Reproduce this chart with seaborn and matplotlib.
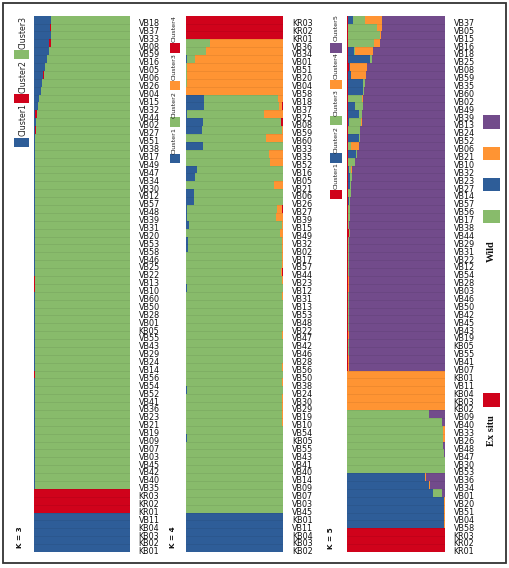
import numpy as np
import pandas as pd
import matplotlib
matplotlib.use("Agg")
import matplotlib.pyplot as plt
import matplotlib.transforms as mtransforms
from matplotlib.patches import Rectangle
import seaborn as sns

# ---------------- colours ----------------
BLUE = "#2E5D98"
RED = "#D0021B"
GREEN = "#88BB6B"
ORANGE = "#FF9433"
PURPLE = "#724B8B"

# ---------------- K = 3 ----------------
K3_LABELS = ["VB18", "VB37", "VB33", "VB08", "VB59", "VB16", "VB05", "VB06", "VB26", "VB04",
             "VB15", "VB32", "VB44", "VB02", "VB27", "VB51", "VB38", "VB17", "VB49", "VB47",
             "VB34", "VB30", "VB12", "VB57", "VB48", "VB39", "VB31", "VB20", "VB53", "VB58",
             "VB46", "VB25", "VB22", "VB13", "VB10", "VB60", "VB50", "VB28", "VB01", "KB05",
             "VB55", "VB43", "VB29", "VB24", "VB14", "VB56", "VB54", "VB52", "VB41", "VB36",
             "VB23", "VB21", "VB19", "VB09", "VB07", "VB03", "VB45", "VB42", "VB40", "VB35",
             "KR03", "KR02", "KR01", "VB11", "KB04", "KB03", "KB02", "KB01"]
K3_CLUSTER1 = [0.177, 0.167, 0.177, 0.160, 0.156, 0.132, 0.110, 0.097, 0.083, 0.073,
               0.049, 0.038, 0.012, 0.020, 0.014, 0.012, 0.010, 0.009, 0.008, 0.008,
               0.008, 0.008, 0.007, 0.006, 0.007, 0.006, 0.006, 0.007, 0.008, 0.007,
               0.006, 0.006, 0.007, 0.005, 0.004, 0.006, 0.006, 0.007, 0.008, 0.008,
               0.006, 0.007, 0.006, 0.007, 0.006, 0.005, 0.006, 0.006, 0.006, 0.006,
               0.006, 0.006, 0.007, 0.008, 0.006, 0.006, 0.006, 0.006, 0.006, 0.006,
               0, 0, 0, 1, 1, 1, 1, 1]
K3_CLUSTER2 = [0.004, 0.010, 0.004, 0.014, 0.003, 0.003, 0.002, 0.002, 0.002, 0.003,
               0.004, 0.006, 0.022, 0.004, 0.005, 0.003, 0.004, 0.004, 0.005, 0.003,
               0.002, 0.003, 0.004, 0.006, 0.003, 0.005, 0.006, 0.003, 0.002, 0.003,
               0.004, 0.003, 0.003, 0.008, 0.010, 0.005, 0.004, 0.003, 0.002, 0.002,
               0.005, 0.003, 0.004, 0.003, 0.003, 0.007, 0.004, 0.003, 0.003, 0.004,
               0.003, 0.003, 0.003, 0.002, 0.003, 0.003, 0.003, 0.004, 0.003, 0.003,
               1, 1, 1, 0, 0, 0, 0, 0]
K3_CLUSTER3 = [0.819, 0.823, 0.819, 0.826, 0.841, 0.865, 0.888, 0.901, 0.915, 0.924,
               0.947, 0.956, 0.966, 0.976, 0.981, 0.985, 0.986, 0.987, 0.987, 0.989,
               0.990, 0.989, 0.989, 0.988, 0.990, 0.989, 0.988, 0.990, 0.990, 0.990,
               0.990, 0.991, 0.990, 0.987, 0.986, 0.989, 0.990, 0.990, 0.990, 0.990,
               0.989, 0.990, 0.990, 0.990, 0.991, 0.988, 0.990, 0.991, 0.991, 0.990,
               0.991, 0.991, 0.990, 0.990, 0.991, 0.991, 0.991, 0.990, 0.991, 0.991,
               0, 0, 0, 0, 0, 0, 0, 0]

# ---------------- K = 4 ----------------
K4_LABELS = ["KR03", "KR02", "KR01", "VB36", "VB34", "VB01", "VB51", "VB20", "VB04", "VB58",
             "VB18", "VB37", "VB25", "VB08", "VB59", "VB60", "VB33", "VB35", "VB52", "VB16",
             "VB05", "VB21", "VB06", "VB26", "VB27", "VB39", "VB15", "VB49", "VB32", "VB02",
             "VB17", "VB57", "VB44", "VB23", "VB12", "VB31", "VB13", "VB53", "VB48", "VB22",
             "VB47", "VB42", "VB46", "VB28", "VB56", "VB50", "VB38", "VB24", "VB30", "VB29",
             "VB19", "VB10", "VB54", "KB05", "VB55", "VB43", "VB41", "VB40", "VB14", "VB09",
             "VB07", "VB03", "VB45", "KB01", "VB11", "KB04", "KB03", "KB02"]
K4_CLUSTER1 = [0, 0, 0, 0.003, 0.003, 0.010, 0.004, 0.004, 0.004, 0.002,
               0.190, 0.183, 0.010, 0.174, 0.164, 0.004, 0.175, 0.004, 0.004, 0.120,
               0.100, 0.004, 0.087, 0.085, 0.010, 0.010, 0.034, 0.008, 0.024, 0.020,
               0.008, 0.006, 0.006, 0.005, 0.010, 0.006, 0.008, 0.008, 0.008, 0.006,
               0.006, 0.004, 0.008, 0.006, 0.004, 0.006, 0.004, 0.010, 0.006, 0.004,
               0.004, 0.006, 0.004, 0.010, 0.006, 0.004, 0.004, 0.004, 0.006, 0.004,
               0.004, 0.004, 0.004, 1, 1, 1, 1, 1]
K4_CLUSTER2 = [0, 0, 0, 0.247, 0.207, 0.085, 0.008, 0.008, 0.008, 0.006,
               0.760, 0.774, 0.790, 0.806, 0.818, 0.816, 0.825, 0.846, 0.856, 0.880,
               0.900, 0.896, 0.913, 0.915, 0.930, 0.920, 0.956, 0.957, 0.966, 0.970,
               0.978, 0.980, 0.970, 0.977, 0.982, 0.984, 0.985, 0.986, 0.986, 0.988,
               0.982, 0.990, 0.986, 0.988, 0.986, 0.988, 0.984, 0.984, 0.984, 0.986,
               0.986, 0.980, 0.990, 0.986, 0.990, 0.992, 0.992, 0.992, 0.990, 0.992,
               0.992, 0.992, 0.992, 0, 0, 0, 0, 0]
K4_CLUSTER3 = [0, 0, 0, 0.750, 0.790, 0.905, 0.988, 0.988, 0.988, 0.992,
               0.050, 0.030, 0.200, 0.000, 0.018, 0.180, 0, 0.150, 0.140, 0,
               0, 0.100, 0, 0, 0.050, 0.070, 0.010, 0.035, 0.010, 0.008,
               0.014, 0.010, 0.010, 0.018, 0.008, 0.010, 0.007, 0.006, 0.006, 0.006,
               0.012, 0.006, 0.006, 0.006, 0.010, 0.006, 0.012, 0.006, 0.010, 0.010,
               0.010, 0.014, 0.006, 0.004, 0.004, 0.004, 0.004, 0.004, 0.004, 0.004,
               0.004, 0.004, 0.004, 0, 0, 0, 0, 0]
K4_CLUSTER4 = [1, 1, 1, 0, 0, 0, 0, 0, 0, 0,
               0, 0.013, 0, 0.020, 0, 0, 0, 0, 0, 0,
               0, 0, 0, 0, 0.010, 0, 0, 0, 0, 0.002,
               0, 0.004, 0.014, 0, 0, 0, 0, 0, 0, 0,
               0, 0, 0, 0, 0, 0, 0, 0, 0, 0,
               0, 0, 0, 0, 0, 0, 0, 0, 0, 0,
               0, 0, 0, 0, 0, 0, 0, 0]

# ---------------- K = 5 ----------------
K5_LABELS = ["VB37", "VB05", "VB15", "VB16", "VB18", "VB25", "VB08", "VB59", "VB35", "VB60",
             "VB02", "VB49", "VB39", "VB13", "VB24", "VB52", "VB06", "VB21", "VB10", "VB32",
             "VB23", "VB27", "VB14", "VB57", "VB56", "VB17", "VB38", "VB44", "VB29", "VB31",
             "VB22", "VB12", "VB54", "VB28", "VB03", "VB46", "VB50", "VB42", "VB45", "VB43",
             "VB19", "KB05", "VB55", "VB41", "VB07", "KB01", "VB11", "KB04", "KB03", "KB02",
             "VB09", "VB40", "VB33", "VB26", "VB48", "VB47", "VB30", "VB53", "VB36", "VB34",
             "VB01", "VB20", "VB51", "VB04", "VB58", "KR03", "KR02", "KR01"]
K5_CLUSTER1 = [0.010, 0.008, 0.008, 0.006, 0.004, 0.004, 0.017, 0.004, 0.004, 0.004,
               0.004, 0.004, 0.004, 0.004, 0.004, 0.004, 0.004, 0.004, 0.004, 0.006,
               0.004, 0.006, 0.004, 0.004, 0.006, 0.004, 0.004, 0.017, 0.004, 0.004,
               0.004, 0.004, 0.004, 0.004, 0.004, 0.006, 0.004, 0.004, 0.004, 0.004,
               0.004, 0.004, 0.004, 0.004, 0.004, 0, 0, 0, 0, 0,
               0, 0, 0, 0, 0, 0, 0, 0, 0, 0,
               0, 0, 0, 0, 0, 1, 1, 1]
K5_CLUSTER2 = [0.050, 0.000, 0.000, 0.000, 0.068, 0.232, 0.006, 0.034, 0.160, 0.160,
               0.006, 0.078, 0.120, 0.017, 0.006, 0.120, 0.004, 0.090, 0.004, 0.010,
               0.027, 0.020, 0.008, 0.010, 0.006, 0.004, 0.006, 0.004, 0.008, 0.004,
               0.006, 0.004, 0.004, 0.004, 0.004, 0.004, 0.008, 0.006, 0.004, 0.004,
               0.004, 0.006, 0.004, 0.004, 0.004, 0, 0, 0, 0, 0,
               0, 0, 0, 0, 0, 0, 0, 0, 0.795, 0.836,
               0.880, 0.990, 0.990, 0.990, 0.992, 0, 0, 0]
K5_CLUSTER3 = [0.126, 0.292, 0.330, 0.266, 0.006, 0.017, 0.000, 0.000, 0.014, 0.010,
               0.137, 0.075, 0.024, 0.120, 0.120, 0.010, 0.030, 0.010, 0.070, 0.025,
               0.020, 0.012, 0.030, 0.010, 0.020, 0.015, 0.010, 0.004, 0.006, 0.008,
               0.006, 0.006, 0.008, 0.004, 0.004, 0.004, 0.004, 0.004, 0.010, 0.006,
               0.004, 0.004, 0.006, 0.004, 0.004, 0, 0, 0, 0, 0,
               0.840, 0.970, 0.975, 0.980, 0.980, 0.990, 0.995, 0.995, 0, 0,
               0.090, 0, 0, 0, 0, 0, 0, 0]
K5_CLUSTER4 = [0.170, 0.058, 0.012, 0.062, 0.180, 0.000, 0.174, 0.150, 0.000, 0.000,
               0.010, 0.000, 0.000, 0.008, 0.000, 0.000, 0.085, 0.000, 0.000, 0.006,
               0.000, 0.000, 0.000, 0.004, 0.000, 0.004, 0.000, 0.000, 0.002, 0.004,
               0.002, 0.002, 0.002, 0.002, 0.002, 0.002, 0.002, 0.002, 0.002, 0.002,
               0.002, 0.002, 0.002, 0.002, 0.002, 1, 1, 1, 1, 1,
               0, 0, 0.025, 0.020, 0, 0, 0, 0, 0.010, 0.014,
               0, 0.010, 0.010, 0.010, 0.008, 0, 0, 0]
K5_CLUSTER5 = [0.644, 0.642, 0.650, 0.666, 0.742, 0.747, 0.803, 0.812, 0.822, 0.826,
               0.843, 0.843, 0.852, 0.851, 0.870, 0.866, 0.877, 0.896, 0.922, 0.953,
               0.949, 0.962, 0.958, 0.972, 0.968, 0.973, 0.980, 0.975, 0.980, 0.980,
               0.982, 0.984, 0.982, 0.986, 0.986, 0.984, 0.982, 0.984, 0.980, 0.984,
               0.986, 0.984, 0.984, 0.986, 0.986, 0, 0, 0, 0, 0,
               0.160, 0.030, 0, 0, 0.020, 0.010, 0.005, 0.005, 0.195, 0.150,
               0.030, 0, 0, 0, 0, 0, 0, 0]

# ---------------- figure ----------------
W, H = 510, 568
sns.set_theme(style="white")
plt.rcParams["font.family"] = ["DejaVu Sans"]
fig = plt.figure(figsize=(W / 100, H / 100), dpi=100)
fig.patch.set_facecolor("white")

BAR_TOP, BAR_BOT = 15.7, 552.0


def make_ax(x0, x1):
    return fig.add_axes([x0 / W, 1 - BAR_BOT / H, (x1 - x0) / W, (BAR_BOT - BAR_TOP) / H])


def panel(ax, labels, clusters, colors):
    df = pd.DataFrame({"sample": labels})
    cum = np.cumsum(np.array(clusters, dtype=float), axis=0)
    for i in range(len(clusters) - 1, -1, -1):
        df["c"] = cum[i]
        sns.barplot(data=df, x="c", y="sample", orient="h", color=colors[i],
                    saturation=1, width=1.0, linewidth=0, errorbar=None, ax=ax)
    n = len(labels)
    # faint separators between individuals
    ax.hlines(np.arange(n - 1) + 0.5, 0, 1, colors=(0, 0, 0, 0.09), linewidth=0.5)
    ax.set_xlim(0, 1)
    ax.set_ylim(n - 0.5, -0.5)
    ax.set_xlabel("")
    ax.set_ylabel("")
    ax.set_xticks([])
    for s in ax.spines.values():
        s.set_visible(False)
    ax.yaxis.tick_right()
    ax.tick_params(axis="y", length=0, pad=6.3, labelsize=5.8, labelcolor="#111111",
                   labelright=True, labelleft=False)
    off = mtransforms.ScaledTranslation(0, -2.8 / 100, fig.dpi_scale_trans)
    for t in ax.get_yticklabels():
        t.set_transform(t.get_transform() + off)


ax1 = make_ax(34.0, 130.0)
panel(ax1, K3_LABELS, [K3_CLUSTER1, K3_CLUSTER2, K3_CLUSTER3], [BLUE, RED, GREEN])
ax2 = make_ax(185.7, 283.3)
panel(ax2, K4_LABELS, [K4_CLUSTER1, K4_CLUSTER2, K4_CLUSTER3, K4_CLUSTER4],
      [BLUE, GREEN, ORANGE, RED])
ax3 = make_ax(347.3, 445.0)
panel(ax3, K5_LABELS, [K5_CLUSTER1, K5_CLUSTER2, K5_CLUSTER3, K5_CLUSTER4, K5_CLUSTER5],
      [RED, BLUE, GREEN, ORANGE, PURPLE])


def fig_rect(x0, y0, x1, y1, color, **kw):
    fig.patches.append(Rectangle((x0 / W, 1 - y1 / H), (x1 - x0) / W, (y1 - y0) / H,
                                 transform=fig.transFigure, facecolor=color,
                                 edgecolor="none", **kw))


def fig_vtext(x, y, s, **kw):
    fig.text(x / W, 1 - y / H, s, rotation=90, ha="center", va="center", **kw)


# legends of the panels (rotated)
# K = 3
for (y0, y1), c in zip([(138, 147), (94, 103), (50, 59)], [BLUE, RED, GREEN]):
    fig_rect(14, y0, 28.7, y1, c)
for yc, s in zip([120, 76.5, 32.5], ["Cluster1", "Cluster2", "Cluster3"]):
    fig_vtext(22.5, yc, s, fontsize=5.7, color="#222222")
# K = 4
for (y0, y1), c in zip([(154, 163), (117, 127), (81, 90), (43, 53)], [BLUE, GREEN, ORANGE, RED]):
    fig_rect(170, y0, 180, y1, c)
for yc, s in zip([140.5, 104.5, 66.5, 28.5], ["Cluster1", "Cluster2", "Cluster3", "Cluster4"]):
    fig_vtext(174.5, yc, s, fontsize=4.6, color="#222222")
# K = 5
for (y0, y1), c in zip([(190, 199), (153, 163), (116, 125), (80, 89), (43, 53)],
                       [RED, BLUE, GREEN, ORANGE, PURPLE]):
    fig_rect(330, y0, 341.7, y1, c)
for yc, s in zip([175.5, 139.5, 102.5, 65.5, 27.5],
                 ["Cluster1", "Cluster2", "Cluster3", "Cluster4", "Cluster5"]):
    fig_vtext(336, yc, s, fontsize=4.6, color="#222222")

# K labels
fig_vtext(20.5, 537.5, "K = 3", fontsize=5.2, fontweight="bold", color="#111111")
fig_vtext(173.0, 537.5, "K = 4", fontsize=5.2, fontweight="bold", color="#111111")
fig_vtext(330.7, 538.5, "K = 5", fontsize=5.2, fontweight="bold", color="#111111")

# right legend
for (y0, y1), c in zip([(115, 129), (147, 160), (178, 191), (210, 223)],
                       [PURPLE, ORANGE, BLUE, GREEN]):
    fig_rect(482.7, y0, 500, y1, c)
fig_vtext(491.5, 251, "Wild", fontsize=7.5, fontweight="bold",
          family=["Liberation Serif"], color="#111111")
fig_rect(482.7, 393, 500, 407, RED)
fig_vtext(491.5, 431, "Ex situ", fontsize=7.5, fontweight="bold",
          family=["Liberation Serif"], color="#111111")

# figure frame
fig.patches.append(Rectangle((3 / W, 1 - 563 / H), 503 / W, 560 / H,
                             transform=fig.transFigure, facecolor="none",
                             edgecolor="#333333", linewidth=1.3))

fig.savefig("out.png", dpi=100, facecolor="white")
